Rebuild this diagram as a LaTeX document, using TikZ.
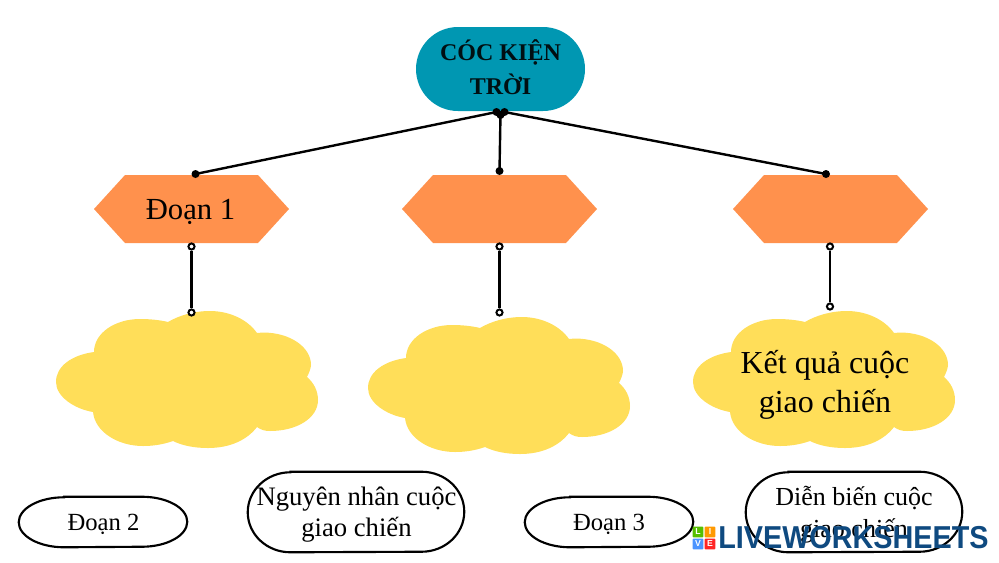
\documentclass[tikz,border=0pt]{standalone}
\usepackage{fontspec}
\setmainfont{Liberation Serif}
\newfontfamily\logofont{Liberation Sans}
\usetikzlibrary{shapes.misc}
\definecolor{pillblue}{HTML}{0097B2}
\definecolor{hexorange}{HTML}{FF914D}
\definecolor{cloudyellow}{HTML}{FFDE59}
\definecolor{logoblue}{HTML}{0F4A80}
\tikzset{
  px/.style={x=0.75pt,y=-0.75pt},
  pill/.style={rounded rectangle,fill=pillblue,minimum width=126.75pt,minimum height=63pt,inner sep=0pt},
  pilltext/.style={inner sep=0pt,align=center,font=\bfseries\fontsize{18}{25.5}\selectfont,text=black!90!pillblue},
  hexa/.style={rectangle,minimum width=146.25pt,minimum height=51pt,inner sep=0pt,
    path picture={\fill[hexorange]
      (path picture bounding box.west) --
      ([xshift=23.25pt]path picture bounding box.north west) --
      ([xshift=-23.25pt]path picture bounding box.north east) --
      (path picture bounding box.east) --
      ([xshift=-23.25pt]path picture bounding box.south east) --
      ([xshift=23.25pt]path picture bounding box.south west) -- cycle;}},
  hextext/.style={inner sep=0pt,font=\fontsize{23}{26}\selectfont},
  cloudtext/.style={inner sep=0pt,align=center,font=\fontsize{24}{29}\selectfont},
  optbig/.style={rectangle,inner sep=0pt,minimum width=162pt,minimum height=60pt},
  optsmall/.style={rectangle,inner sep=0pt,minimum width=126pt,minimum height=37.5pt},
  bigtext/.style={inner sep=0pt,align=center,font=\fontsize{20}{23.5}\selectfont},
  smalltext/.style={inner sep=0pt,font=\fontsize{18.5}{22}\selectfont},
  ovalline/.style={draw=black,line width=1.6pt},
  fulldot/.style={circle,fill=black,minimum size=6pt,inner sep=0pt},
  opendot/.style={circle,draw=black,fill=white,line width=1.5pt,minimum size=4.6pt,inner sep=0pt},
  link/.style={draw=black,line width=1.8pt},
  tile/.style={minimum size=8.2pt,inner sep=0pt,rounded corners=0.8pt,text=white,font=\logofont\bfseries\fontsize{6.5}{7}\selectfont},
}
\newcommand{\mycloud}[2]{%
\fill[cloudyellow,shift={(#1,#2)}]
 (94,352) .. controls (94,333) and (115,319) .. (140,319)
 .. controls (150,319) and (160,320) .. (168,322)
 .. controls (178,316) and (193,311) .. (210,311)
 .. controls (230,311) and (248,320) .. (257,333)
 .. controls (259,333) and (261,332.5) .. (263,332.5)
 .. controls (290,332.5) and (311,347) .. (311,365)
 .. controls (311,368) and (309,373) .. (307,377)
 .. controls (314,383) and (318,391) .. (318,400)
 .. controls (318,418) and (297,431) .. (270,431)
 .. controls (265,431) and (261,430) .. (257,427)
 .. controls (247,440) and (230,448) .. (208,448)
 .. controls (194,448) and (182,445.5) .. (173,441)
 .. controls (163,444.5) and (153,446) .. (143,446)
 .. controls (118,446) and (95,432) .. (93,412)
 .. controls (75,409) and (56,397) .. (56,382)
 .. controls (56,366) and (72,355) .. (94,352) -- cycle;}
\newcommand{\myoval}[3]{%
\draw[ovalline] ([xshift=#2]#1.north west) -- ([xshift=-#2]#1.north east)
 arc[start angle=90,end angle=-90,x radius=#2,y radius=#3]
 -- ([xshift=#2]#1.south west)
 arc[start angle=270,end angle=90,x radius=#2,y radius=#3] -- cycle;}
\begin{document}
\begin{tikzpicture}[px]
\useasboundingbox (0,0) rectangle (999,562);
\mycloud{0}{0}
\mycloud{312}{6}
\mycloud{637}{0}
\node[pill] (top) at (500.5,69) {};
\node[pilltext] (toptext) at (500.5,67.5) {CÓC KIỆN\\TRỜI};
\node[hexa] (h1) at (191.5,209) {};
\node[hextext] (h1text) at (190.5,212) {Đoạn 1};
\node[hexa] (h2) at (499.5,209) {};
\node[hexa] (h3) at (830.5,209) {};
\node[cloudtext] (c3) at (825,385) {Kết quả cuộc\\giao chiến};
\node[optsmall] (o1) at (103,522) {};
\myoval{o1}{34pt}{18.75pt}
\node[smalltext] (o1text) at (103.5,524) {Đoạn 2};
\node[optbig] (o2) at (356,512) {};
\myoval{o2}{32pt}{30pt}
\node[bigtext] (o2text) at (356.5,514.5) {Nguyên nhân cuộc\\giao chiến};
\node[optsmall] (o3) at (609,522) {};
\myoval{o3}{34pt}{18.75pt}
\node[smalltext] (o3text) at (609,524) {Đoạn 3};
\node[optbig] (o4) at (854,512) {};
\myoval{o4}{32pt}{30pt}
\node[bigtext,font=\fontsize{19.5}{23.5}\selectfont] (o4text) at (854,514.5) {Diễn biến cuộc\\giao chiến};
% connectors
\draw[link] (496.5,112) coordinate (tl) -- (195.5,174) coordinate (d1c);
\draw[link] (500.5,114) coordinate (tm) -- (499.5,171) coordinate (d2c);
\draw[link] (504.5,112) coordinate (tr) -- (826,174) coordinate (d3c);
\node[fulldot] (ntl) at (tl) {};
\node[fulldot] (ntr) at (tr) {};
\node[fulldot] (ntm) at (500.5,115) {};
\node[fulldot] (d1) at (d1c) {};
\node[fulldot] (d2) at (d2c) {};
\node[fulldot] (d3) at (d3c) {};
\node[opendot] (a1) at (191.5,246.5) {};
\node[opendot] (b1) at (191.5,312.5) {};
\node[opendot] (a2) at (499.5,246.5) {};
\node[opendot] (b2) at (499.5,312.5) {};
\node[opendot] (a3) at (830,246.5) {};
\node[opendot] (b3) at (830,306.5) {};
\draw[link] (a1) -- (b1);
\draw[link] (a2) -- (b2);
\draw[link] (a3) -- (b3);
% logo
\node[tile,fill=lime!60!green!75!black] (lL) at (698,532) {L};
\node[tile,fill=orange!80!yellow] (lI) at (710,532) {I};
\node[tile,fill=blue!60!cyan!70!white] (lV) at (698,544) {V};
\node[tile,fill=red!80!pink] (lE) at (710,544) {E};
\node[anchor=west,inner sep=0pt,text=logoblue,font=\logofont\bfseries\fontsize{21.6}{24}\selectfont] (logo) at (718,537.5) {\scalebox{1}[1.1]{LIVEWORKSHEETS}};
\end{tikzpicture}
\end{document}
